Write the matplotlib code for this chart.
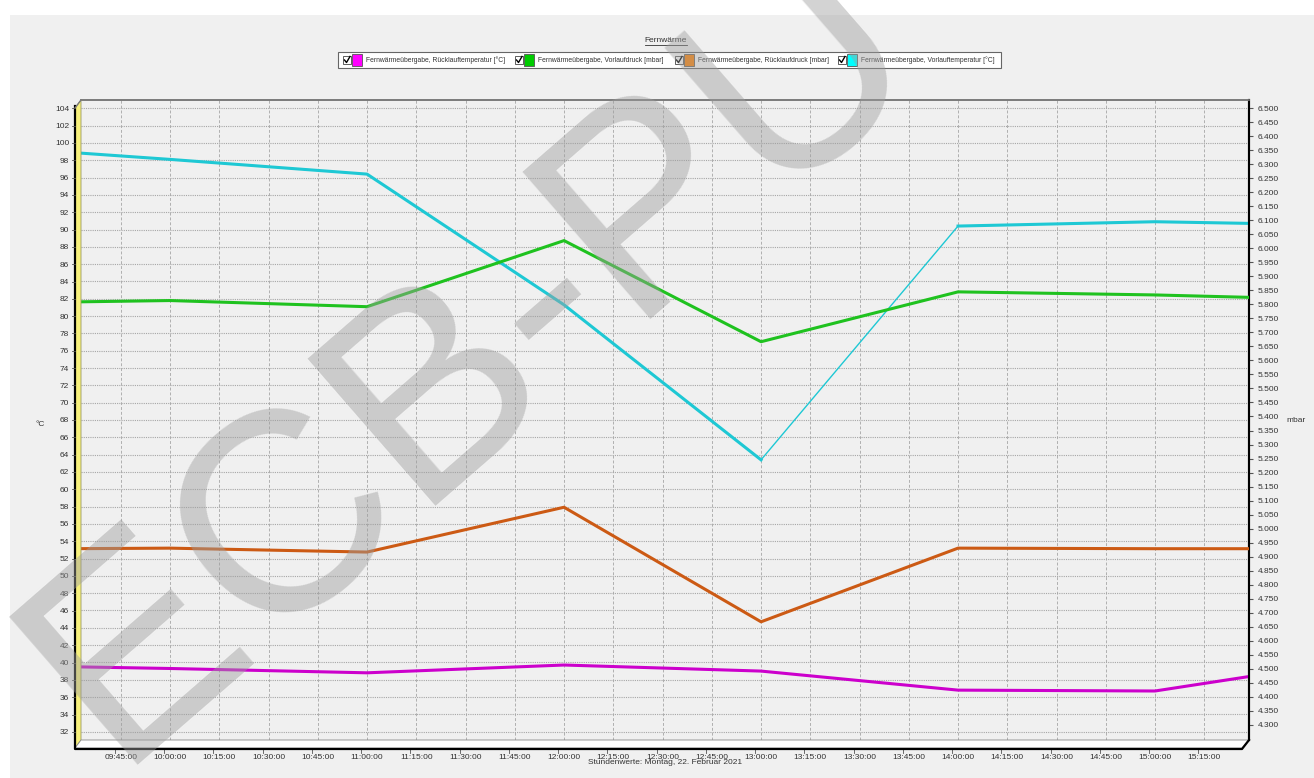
import matplotlib
matplotlib.use("Agg")
import matplotlib.pyplot as plt
from matplotlib.patches import Polygon, Rectangle
from matplotlib.lines import Line2D
from matplotlib.ticker import FixedLocator, FuncFormatter

# ---------------- data ----------------
hours = [9, 10, 11, 12, 13, 14, 15, 16]
ruecklauf_temp = [39.7, 39.3, 38.8, 39.7, 39.0, 36.8, 36.7, 40.2]       # °C (left)
vorlauf_druck = [5804, 5814, 5792, 6028, 5667, 5845, 5834, 5816]       # mbar (right)
ruecklauf_druck = [4926, 4930, 4916, 5076, 4667, 4930, 4928, 4928]    # mbar (right)
vorlauf_temp = [99.7, 98.1, 96.4, 81.3, 63.4, 90.4, 90.9, 90.5]        # °C (left)

x_tick_labels = ["09:45:00", "10:00:00", "10:15:00", "10:30:00", "10:45:00",
                 "11:00:00", "11:15:00", "11:30:00", "11:45:00", "12:00:00",
                 "12:15:00", "12:30:00", "12:45:00", "13:00:00", "13:15:00",
                 "13:30:00", "13:45:00", "14:00:00", "14:15:00", "14:30:00",
                 "14:45:00", "15:00:00", "15:15:00"]
left_ticks = list(range(32, 105, 2))
right_ticks = list(range(4300, 6501, 50))

legend_labels = ["Fernwärmeübergabe, Rücklauftemperatur [°C]",
                 "Fernwärmeübergabe, Vorlaufdruck [mbar]",
                 "Fernwärmeübergabe, Rücklaufdruck [mbar]",
                 "Fernwärmeübergabe, Vorlauftemperatur [°C]"]
title = "Fernwärme"
xlabel = "Stundenwerte: Montag, 22. Februar 2021"

# ---------------- styles ----------------
C_MAG = "#cc00cc"
C_GRN = "#1fc21f"
C_ORG = "#cc5a14"
C_CYN = "#1ec8d4"
SW_COLORS = ["#ff00ff", "#00cc00", "#ff8000", "#00ffff"]
FONT = ["Liberation Sans", "DejaVu Sans"]
plt.rcParams["font.family"] = FONT

W, H = 1314, 778
fig = plt.figure(figsize=(W / 100, H / 100), dpi=100, facecolor="white")


def P(x, y):
    return (x / W, 1 - y / H)


# gray panel
fig.patches.append(Rectangle(P(10, 778), (W - 10) / W, (778 - 15) / H,
                             transform=fig.transFigure, facecolor="#f0f0f0",
                             edgecolor="none", zorder=-5))

L, R, T, B = 81, 1249, 100, 740
ax = fig.add_axes([L / W, 1 - B / H, (R - L) / W, (B - T) / H])
ax.set_facecolor("#f0f0f0")
ax2 = ax.twinx()

def tick_to_hours(s):
    h, m, _ = s.split(":")
    return int(h) + int(m) / 60.0

XMIN, XMAX = 9.548, 15.477
xt = [tick_to_hours(s) for s in x_tick_labels]
ax.set_xlim(XMIN, XMAX)
ax.set_ylim(31.04, 104.96)
ax2.set_ylim(4245, 6530)

ax.xaxis.set_major_locator(FixedLocator(xt))
ax.set_xticklabels(x_tick_labels, fontsize=6, color="#333333")
ax.yaxis.set_major_locator(FixedLocator(left_ticks))
ax.set_yticklabels([str(v) for v in left_ticks], fontsize=6, color="#333333")
ax2.yaxis.set_major_locator(FixedLocator(right_ticks))
ax2.yaxis.set_major_formatter(FuncFormatter(lambda v, p: f"{int(v):,}".replace(",", ".")))
ax2.tick_params(axis="y", labelsize=6, labelcolor="#333333", length=3, pad=3,
                direction="out", color="#555555")
ax.tick_params(axis="y", length=0, pad=8.5)
ax.tick_params(axis="x", length=0, pad=10)

ax.grid(True, axis="y", color="#a6a6a6", linestyle=(0, (1, 1)), linewidth=0.8)
ax.grid(True, axis="x", color="#b0b0b0", linestyle=(0, (3, 2)), linewidth=0.7)
ax.set_axisbelow(True)

for a in (ax, ax2):
    a.spines["left"].set_visible(False)
    a.spines["bottom"].set_visible(False)
    a.spines["top"].set_color("#7a7a7a")
    a.spines["top"].set_linewidth(1.2)
    a.spines["right"].set_color("black")
    a.spines["right"].set_linewidth(1.5)

LW = 2.2
ax.plot(hours, ruecklauf_temp, color=C_MAG, lw=LW, solid_joinstyle="round", zorder=3)
ax.plot(hours, vorlauf_temp, color=C_CYN, lw=1.0, zorder=3)
ax.plot(hours[:5], vorlauf_temp[:5], color=C_CYN, lw=LW, solid_joinstyle="round", zorder=4)
ax.plot(hours[5:], vorlauf_temp[5:], color=C_CYN, lw=LW, solid_joinstyle="round", zorder=4)
ax2.plot(hours, vorlauf_druck, color=C_GRN, lw=LW, solid_joinstyle="round", zorder=3)
ax2.plot(hours, ruecklauf_druck, color=C_ORG, lw=LW, solid_joinstyle="round", zorder=3)

ax.set_xlabel(xlabel, fontsize=6, color="#333333", labelpad=-1)
fig.text(*P(40, 425), "°C", fontsize=6, color="#333333", ha="center", va="center")
fig.text(*P(1296, 420), "mbar", fontsize=6, color="#333333", ha="center", va="center")

# 3D decorations: yellow wall and floor
wall = Polygon([P(75, 108), P(L, T), P(L, B), P(75, 748)], closed=True,
               transform=fig.transFigure, facecolor="#f7f07c", edgecolor="#9a9a60",
               linewidth=0.6, zorder=2)
fig.patches.append(wall)
floor = Polygon([P(75, 748), P(L, B), P(R, B), P(1242, 748)], closed=True,
                transform=fig.transFigure, facecolor="white", edgecolor="#888888",
                linewidth=0.6, zorder=2)
fig.patches.append(floor)
fig.lines.append(Line2D([P(75, 106)[0], P(75, 749)[0], P(1242, 749)[0], P(R, B)[0]],
                        [P(75, 106)[1], P(75, 749)[1], P(1242, 749)[1], P(R, B)[1]],
                        transform=fig.transFigure, color="black", lw=1.6, zorder=3))
fig.lines.append(Line2D([P(75, 108)[0], P(L, T)[0]], [P(75, 108)[1], P(L, T)[1]],
                        transform=fig.transFigure, color="#7a7a7a", lw=1.0, zorder=3))

# small tick marks on the left wall
for v in left_ticks:
    yp = 108.3 + (104 - v) * 8.66
    fig.lines.append(Line2D([P(72, yp)[0], P(75, yp)[0]], [P(72, yp)[1]] * 2,
                            transform=fig.transFigure, color="#555555", lw=0.6, zorder=3))

# small x ticks below floor
for xv in xt:
    xp = L + (xv - XMIN) / (XMAX - XMIN) * (R - L) - 6
    fig.lines.append(Line2D([P(xp, 749)[0]] * 2, [P(xp, 749)[1], P(xp, 753)[1]],
                            transform=fig.transFigure, color="#555555", lw=0.6))

# title (underlined)
tt = fig.text(*P(666, 40), title, fontsize=6, color="#333333", ha="center", va="center")

# legend
fig.patches.append(Rectangle(P(338, 68), (1001 - 338) / W, 16 / H, transform=fig.transFigure,
                             facecolor="white", edgecolor="#666666", linewidth=0.8, zorder=2))
chk_x = [343, 515, 675, 838]
for i, lab in enumerate(legend_labels):
    cx = chk_x[i]
    fig.patches.append(Rectangle(P(cx, 64), 8 / W, 8 / H, transform=fig.transFigure,
                                 facecolor="white", edgecolor="#444444", linewidth=0.6, zorder=3))
    fig.lines.append(Line2D([P(cx + 1.5, 60)[0], P(cx + 3.5, 62.5)[0], P(cx + 7, 56.5)[0]],
                            [P(cx + 1.5, 60)[1], P(cx + 3.5, 62.5)[1], P(cx + 7, 56.5)[1]],
                            transform=fig.transFigure, color="black", lw=1.0, zorder=4))
    fig.patches.append(Rectangle(P(cx + 9, 66), 10 / W, 12 / H, transform=fig.transFigure,
                                 facecolor=SW_COLORS[i], edgecolor="#555555", linewidth=0.6, zorder=3))
    fig.text(*P(cx + 23, 60), lab, fontsize=4.9, color="#333333", ha="left", va="center", zorder=4)

# watermark
fig.text(*P(115, 765), "ECB-PU", fontsize=205, color="#9e9e9e", alpha=0.45,
         rotation=41, rotation_mode="anchor", ha="left", va="baseline", zorder=20)

fig.canvas.draw()
bb = tt.get_window_extent()
fig.lines.append(Line2D([bb.x0 / W, bb.x1 / W], [(bb.y0 - 1) / H] * 2,
                        transform=fig.transFigure, color="#333333", lw=0.6))

fig.savefig("out.png", dpi=100, facecolor="white")
